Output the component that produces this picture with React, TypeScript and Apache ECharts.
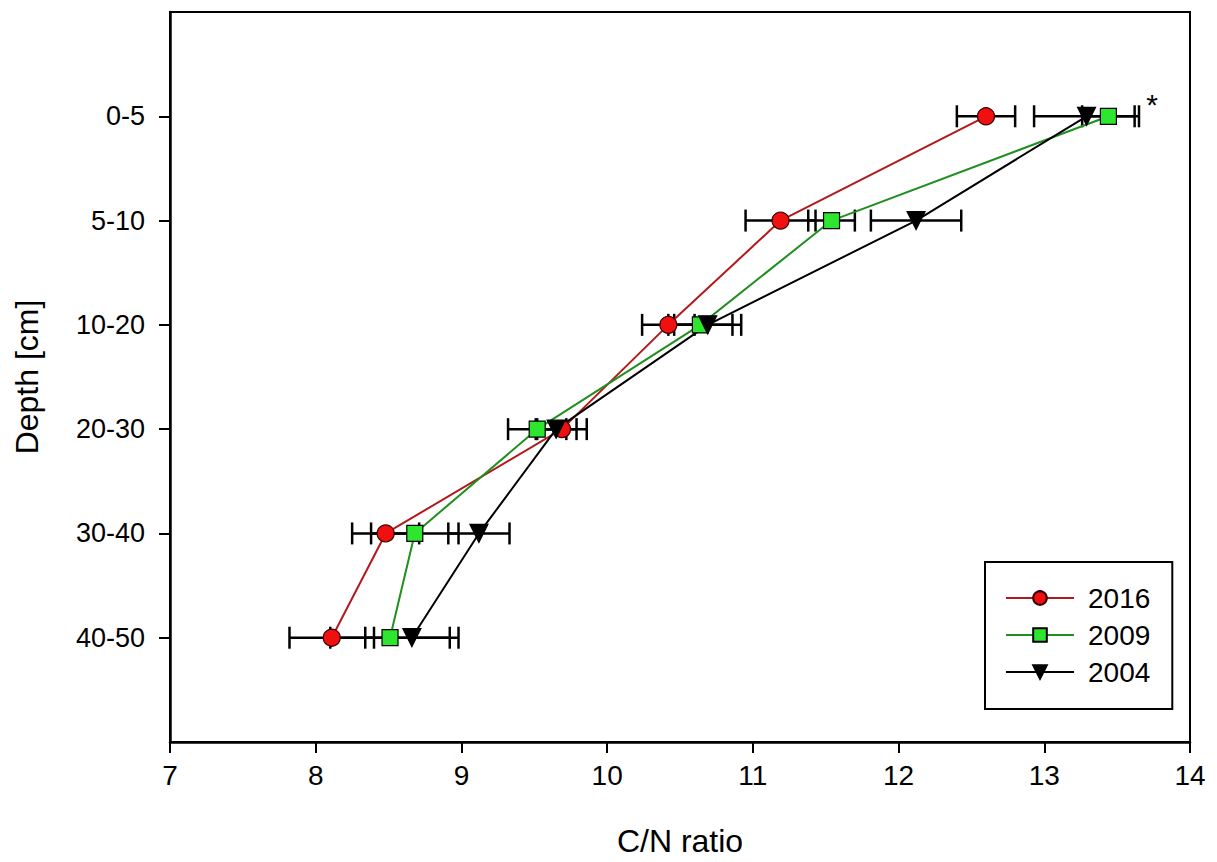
import React, { useEffect, useRef } from "react";
import * as echarts from "echarts";

const depthLabels = ["0-5", "5-10", "10-20", "20-30", "30-40", "40-50"];
const xTicks = [7, 8, 9, 10, 11, 12, 13, 14];

const years = ["2016", "2009", "2004"];
const cn2016 = [12.6, 11.19, 10.42, 9.69, 8.48, 8.11];
const err2016 = [0.2, 0.24, 0.18, 0.17, 0.23, 0.29];
const cn2009 = [13.44, 11.54, 10.64, 9.52, 8.68, 8.51];
const err2009 = [0.18, 0.16, 0.22, 0.2, 0.3, 0.41];
const cn2004 = [13.29, 12.12, 10.69, 9.65, 9.12, 8.66];
const err2004 = [0.36, 0.31, 0.23, 0.14, 0.21, 0.32];

const significance = [{ depth: "0-5", mark: "*" }];

const FONT = "'Liberation Sans', Arial, sans-serif";

const seriesDefs = [
  { name: years[0], values: cn2016, errors: err2016, line: "#b3191c", fill: "#f01010", border: "#3a0000", symbol: "circle", size: 17, rotate: 0 },
  { name: years[1], values: cn2009, errors: err2009, line: "#1f8f1f", fill: "#2ee62e", border: "#000000", symbol: "rect", size: 16, rotate: 0 },
  { name: years[2], values: cn2004, errors: err2004, line: "#000000", fill: "#000000", border: "#000000", symbol: "triangle", size: 18, rotate: 180 },
];

export default function App() {
  const ref = useRef<HTMLDivElement>(null);

  useEffect(() => {
    document.body.style.margin = "0";
    if (!ref.current) return;
    const chart = echarts.init(ref.current, undefined, { renderer: "svg" });

    const errData: number[][] = [];
    seriesDefs.forEach((s) => {
      s.values.forEach((v, i) => {
        errData.push([v - s.errors[i], v + s.errors[i], i + 1]);
      });
    });

    const sigData = significance.map((sg) => {
      const idx = depthLabels.indexOf(sg.depth);
      const maxHi = Math.max(...seriesDefs.map((s) => s.values[idx] + s.errors[idx]));
      return [maxHi, idx + 1];
    });

    const lineSeries = seriesDefs.map((s) => ({
      name: s.name,
      type: "line",
      data: s.values.map((v, i) => [v, i + 1]),
      symbol: s.symbol,
      symbolSize: s.size,
      symbolRotate: s.rotate,
      z: 5,
      lineStyle: { color: s.line, width: 2 },
      itemStyle: { color: s.fill, borderColor: s.border, borderWidth: 1.2 },
      emphasis: { disabled: true },
    }));

    const option: any = {
      animation: false,
      grid: {
        left: 170,
        right: 27,
        top: 12,
        bottom: 117,
        show: true,
        borderColor: "#000",
        borderWidth: 2,
      },
      xAxis: {
        type: "value",
        min: xTicks[0],
        max: xTicks[xTicks.length - 1],
        interval: 1,
        name: "C/N ratio",
        nameLocation: "middle",
        nameGap: 83,
        nameTextStyle: { fontSize: 32, color: "#000", fontFamily: FONT },
        axisLine: { show: true, onZero: false, lineStyle: { color: "#000", width: 2.5 } },
        axisTick: { show: true, length: 11, lineStyle: { color: "#000", width: 2 } },
        axisLabel: { fontSize: 28, color: "#000", fontFamily: FONT, margin: 19 },
        splitLine: { show: false },
      },
      yAxis: {
        type: "value",
        inverse: true,
        min: 0,
        max: depthLabels.length + 1,
        interval: 1,
        name: "Depth [cm]",
        nameLocation: "middle",
        nameRotate: 90,
        nameGap: 127,
        nameTextStyle: { fontSize: 32, color: "#000", fontFamily: FONT },
        axisLine: { show: true, onZero: false, lineStyle: { color: "#000", width: 2.5 } },
        axisTick: {
          show: true,
          length: 11,
          lineStyle: { color: "#000", width: 2 },
          customValues: depthLabels.map((_, i) => i + 1),
        },
        axisLabel: {
          fontSize: 27,
          color: "#000",
          fontFamily: FONT,
          margin: 25,
          customValues: depthLabels.map((_, i) => i + 1),
          formatter: (v: number) => depthLabels[Math.round(v) - 1] ?? "",
        },
        splitLine: { show: false },
      },
      legend: {
        data: years,
        orient: "vertical",
        left: 985,
        top: 562,
        padding: [22, 22, 23, 20],
        borderColor: "#000",
        borderWidth: 2,
        itemWidth: 68,
        itemHeight: 17,
        itemGap: 9,
        selectedMode: false,
        textStyle: { fontSize: 28, color: "#000", fontFamily: FONT, lineHeight: 27, padding: [0, 0, 0, 9] },
      },
      series: [
        {
          name: "errors",
          type: "custom",
          z: 3,
          data: errData,
          encode: { x: [0, 1], y: 2 },
          renderItem: (params: any, api: any) => {
            const y = api.value(2);
            const lo = api.coord([api.value(0), y]);
            const hi = api.coord([api.value(1), y]);
            const h = 11;
            const style = { stroke: "#000", lineWidth: 2.5 };
            return {
              type: "group",
              children: [
                { type: "line", shape: { x1: lo[0], y1: lo[1], x2: hi[0], y2: hi[1] }, style },
                { type: "line", shape: { x1: lo[0], y1: lo[1] - h, x2: lo[0], y2: lo[1] + h }, style },
                { type: "line", shape: { x1: hi[0], y1: hi[1] - h, x2: hi[0], y2: hi[1] + h }, style },
              ],
            };
          },
        },
        ...lineSeries,
        {
          name: "significance",
          type: "custom",
          z: 6,
          data: sigData,
          encode: { x: 0, y: 1 },
          renderItem: (params: any, api: any) => {
            const p = api.coord([api.value(0), api.value(1)]);
            return {
              type: "text",
              x: p[0] + 13,
              y: p[1] - 12,
              style: {
                text: significance[params.dataIndex].mark,
                fontSize: 30,
                fontFamily: FONT,
                fill: "#000",
                align: "center",
                verticalAlign: "middle",
              },
            };
          },
        },
      ],
    };

    chart.setOption(option);
    return () => chart.dispose();
  }, []);

  return <div ref={ref} style={{ width: 1217, height: 862, background: "#fff" }} />;
}
